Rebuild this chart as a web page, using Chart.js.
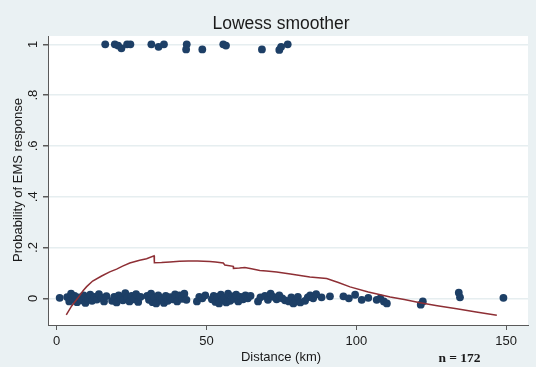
<!DOCTYPE html>
<html>
<head>
<meta charset="utf-8">
<script src="https://cdn.jsdelivr.net/npm/chart.js@4/dist/chart.umd.min.js"></script>
<style>
  body { margin: 0; background: #eaf1f3; }
  canvas { display: block; }
</style>
</head>
<body>
<canvas id="chart" width="536" height="367"></canvas>
<script>
const xTicks = [0, 50, 100, 150];
const yTicks = [0, 0.2, 0.4, 0.6, 0.8, 1];
const yTickLabels = ['0', '.2', '.4', '.6', '.8', '1'];

// observations with EMS response = 1 (slightly jittered)
const onesX = [16.2, 19.4, 20.5, 21.6, 23.5, 24.6, 31.6, 34.0, 35.8, 43.4, 43.2, 48.6, 55.6, 56.5, 68.5, 74.3, 74.9, 77.1];
const onesY = [1.0, 1.0, 0.995, 0.984, 1.0, 1.0, 1.0, 0.99, 1.0, 1.0, 0.98, 0.98, 1.0, 0.995, 0.98, 0.978, 0.99, 1.0];

// observations with EMS response = 0 (slightly jittered)
const zerosX = [
  1.0,
  3.5, 4.2, 4.8, 5.5, 6.0, 6.8, 7.5, 8.3, 9.0, 9.6, 10.4, 11.2, 11.8, 12.6, 13.4, 14.1, 15.0, 15.8, 16.6,
  18.5, 19.2, 20.0, 20.7, 21.4, 22.1, 22.9, 23.6, 24.3, 25.0, 25.8, 26.5, 27.2, 28.0,
  30.2, 30.8, 31.5, 32.0, 32.6, 33.2, 33.9, 34.5, 35.1, 35.8, 36.4, 37.1, 37.9, 38.7, 39.5, 40.2, 41.0, 41.8, 42.6, 43.3,
  46.8, 47.6, 48.6, 49.6,
  51.8, 52.4, 53.0, 53.6, 54.2, 54.8, 55.4, 56.0, 56.6, 57.2, 57.9, 58.5, 59.2, 59.9, 60.6, 61.4, 62.2, 63.0, 63.8, 64.7,
  67.2, 68.0, 69.5, 70.5, 71.4, 72.3, 73.4, 74.3, 75.3, 76.2,
  77.5, 78.3, 79.0, 79.8, 80.5, 81.3, 82.9, 83.8, 84.6, 85.6, 86.6, 88.4, 91.2, 95.7, 97.5, 99.6, 101.8, 104.0, 106.8, 108.0, 109.2, 110.2,
  121.5, 122.2, 134.2, 134.6, 149.1
];
const zerosY = [
  0.002,
  0.005, -0.012, 0.018, -0.004, 0.01, -0.015, 0.004, -0.008, 0.012, -0.018, 0.0, 0.014, -0.01, 0.006, -0.005, 0.016, 0.002, -0.012, 0.009,
  -0.01, 0.006, -0.016, 0.012, 0.0, -0.008, 0.02, 0.004, -0.012, 0.01, -0.004, 0.016, -0.014, 0.006,
  0.01, -0.006, 0.018, -0.015, 0.004, -0.02, 0.012, -0.008, 0.0, -0.018, 0.01, -0.01, 0.005, -0.004, 0.015, -0.012, 0.012, -0.002, 0.018, -0.006,
  -0.012, 0.006, 0.0, 0.012,
  -0.004, 0.01, -0.014, 0.006, -0.02, 0.014, -0.006, 0.002, -0.016, 0.018, -0.01, 0.008, -0.002, 0.014, -0.012, 0.006, -0.004, 0.012, 0.0, 0.01,
  -0.012, 0.004, 0.01, -0.006, 0.018, 0.006, -0.004, 0.012, 0.0, -0.008,
  -0.012, 0.004, -0.02, -0.008, 0.006, -0.016, -0.01, 0.004, 0.012, 0.0, 0.016, 0.004, 0.008, 0.008, 0.0, 0.014, -0.006, 0.002, -0.006, 0.0, -0.012, -0.02,
  -0.025, -0.012, 0.022, 0.004, 0.002
];

// lowess smoothed curve
const lowessX = [3.2, 5, 7, 8.8, 10, 12, 15, 17.7, 20, 22, 24.4, 27.7, 30, 32.5, 32.6, 35, 37.8, 41, 43.9, 47, 51.1, 53, 55.6, 56.1, 58.9, 59, 61, 62.8, 65, 67.8, 70, 73.4, 78, 84.5, 90.1, 94, 97.9, 104, 111.3, 116, 121.3, 127, 133.5, 140, 146.9];
const lowessY = [-0.065, -0.03, 0.0, 0.03, 0.046, 0.068, 0.088, 0.104, 0.115, 0.127, 0.139, 0.15, 0.156, 0.167, 0.14, 0.141, 0.143, 0.146, 0.147, 0.147, 0.145, 0.143, 0.139, 0.131, 0.126, 0.118, 0.119, 0.121, 0.116, 0.11, 0.108, 0.104, 0.096, 0.084, 0.078, 0.062, 0.045, 0.025, 0.005, -0.005, -0.017, -0.029, -0.041, -0.054, -0.067];

const BG = '#eaf1f3';
const NAVY = '#1d3f66';
const MAROON = '#8e2f35';
const AXIS = '#5a5a5a';
const FONT = 'Arial, "Liberation Sans", sans-serif';

function toPoints(xs, ys) {
    return xs.map((x, i) => ({ x: x, y: ys[i] }));
}

const scatterPoints = toPoints(onesX, onesY).concat(toPoints(zerosX, zerosY));

const decorPlugin = {
    id: 'decor',
    beforeDraw(chart) {
        const ctx = chart.ctx;
        const a = chart.chartArea;
        ctx.save();
        ctx.fillStyle = BG;
        ctx.fillRect(0, 0, chart.width, chart.height);
        ctx.fillStyle = '#ffffff';
        ctx.fillRect(a.left, a.top, a.right - a.left, a.bottom - a.top);
        ctx.restore();
    },
    afterDraw(chart) {
        const ctx = chart.ctx;
        const yScale = chart.scales.y;
        ctx.save();
        ctx.fillStyle = '#1a1a1a';

        // title
        ctx.font = '17.5px ' + FONT;
        ctx.textAlign = 'center';
        ctx.textBaseline = 'alphabetic';
        ctx.fillText('Lowess smoother', 281, 28.5);

        // x axis title
        ctx.font = '13px ' + FONT;
        ctx.fillText('Distance (km)', 281, 361);

        // y tick labels, rotated like the original
        ctx.font = '13px ' + FONT;
        yTicks.forEach((v, i) => {
            const py = yScale.getPixelForValue(v);
            ctx.save();
            ctx.translate(37, py);
            ctx.rotate(-Math.PI / 2);
            ctx.fillText(yTickLabels[i], 0, 0);
            ctx.restore();
        });

        // y axis title
        ctx.save();
        ctx.translate(22, 180);
        ctx.rotate(-Math.PI / 2);
        ctx.fillText('Probability of EMS response', 0, 0);
        ctx.restore();

        // sample size note
        ctx.font = 'bold 13.5px "Liberation Serif", "Times New Roman", serif';
        ctx.fillText('n = 172', 459.5, 361.5);
        ctx.restore();
    }
};

const ctx = document.getElementById('chart').getContext('2d');
new Chart(ctx, {
    type: 'scatter',
    data: {
        datasets: [
            {
                label: 'Lowess',
                data: toPoints(lowessX, lowessY),
                showLine: true,
                borderColor: MAROON,
                borderWidth: 1.5,
                pointRadius: 0,
                tension: 0,
                order: 0
            },
            {
                label: 'EMS response',
                data: scatterPoints,
                backgroundColor: NAVY,
                borderColor: NAVY,
                borderWidth: 0,
                pointRadius: 3.9,
                order: 1
            }
        ]
    },
    options: {
        responsive: false,
        animation: false,
        layout: { padding: { top: 36, right: 8, left: 0, bottom: 0 } },
        plugins: {
            legend: { display: false },
            tooltip: { enabled: false },
            title: { display: false }
        },
        scales: {
            x: {
                type: 'linear',
                min: -2.9,
                max: 157.3,
                afterBuildTicks: s => { s.ticks = xTicks.map(v => ({ value: v })); },
                afterFit: s => { s.height = 42; },
                grid: { drawOnChartArea: false, drawTicks: true, tickLength: 5, tickColor: AXIS },
                border: { display: true, color: AXIS, width: 1 },
                ticks: { color: '#1a1a1a', font: { family: FONT, size: 13 }, padding: 4, maxRotation: 0 }
            },
            y: {
                type: 'linear',
                min: -0.105,
                max: 1.0327,
                afterBuildTicks: s => { s.ticks = yTicks.map(v => ({ value: v })); },
                afterFit: s => { s.width = 48; },
                grid: { color: '#e6eef0', lineWidth: 1.5, drawTicks: true, tickLength: 5, tickColor: AXIS },
                border: { display: true, color: AXIS, width: 1 },
                ticks: { display: false }
            }
        }
    },
    plugins: [decorPlugin]
});
</script>
</body>
</html>
